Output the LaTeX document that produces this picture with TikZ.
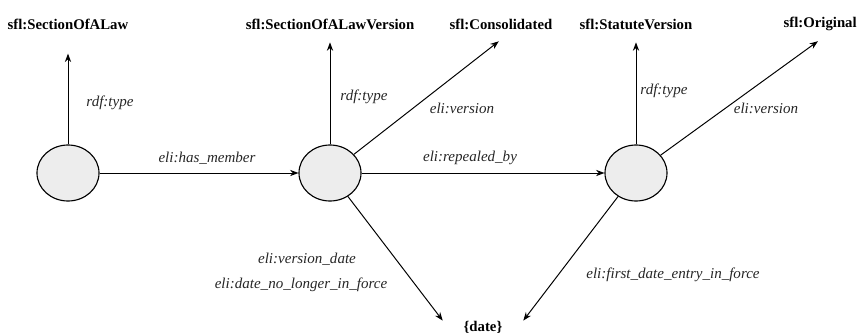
\documentclass[tikz,border=0pt]{standalone}
\usepackage{fontspec}
\setmainfont{Liberation Serif}
\usepackage{tikz}
\usetikzlibrary{shapes.geometric,arrows.meta}

\tikzset{
  res/.style={ellipse, draw, line width=0.8pt, fill=black!7, minimum width=1.55cm, minimum height=1.4cm},
  cls/.style={font=\fontsize{10.5}{12}\selectfont\bfseries, inner sep=0pt, minimum height=0.75cm, anchor=north},
  lbl/.style={font=\fontsize{10.7}{12}\selectfont\itshape, text=black!85},
  rel/.style={line width=0.7pt, -{Stealth[length=6pt,width=4.5pt]}}
}

\begin{document}
\begin{tikzpicture}[x=0.025cm, y=-0.025cm]
  \useasboundingbox (0,0) rectangle (857,335);

  % resources
  \node[res] (law) at (68,173) {};
  \node[res] (ver) at (330,173) {};
  \node[res] (stat) at (636,173) {};

  % classes
  \node[cls] (tlaw) at (68,9) {sfl:SectionOfALaw};
  \node[cls] (tver) at (330,9) {sfl:SectionOfALawVersion};
  \node[cls] (tcons) at (501,9) {sfl:Consolidated};
  \node[cls] (tstat) at (636,9) {sfl:StatuteVersion};
  \node[cls, anchor=north east] (torig) at (857,9) {sfl:Original};
  \node[font=\fontsize{10.5}{12}\selectfont\bfseries, inner sep=0pt, minimum width=2cm] (date) at (483,327) {\{date\}};

  % edges
  \draw[rel, shorten >=10pt] (law) -- (tlaw);
  \draw[rel, shorten >=2pt] (ver) -- (tver);
  \draw[rel, shorten >=2pt] (ver) -- (tcons.south);
  \draw[rel, shorten >=2pt] (stat) -- (tstat);
  \draw[rel, shorten >=2pt] (stat) -- (torig.south);
  \draw[rel] (law) -- (ver);
  \draw[rel] (ver) -- (stat);
  \draw[rel] (ver) -- (date.north west);
  \draw[rel] (stat) -- (date.north east);

  % labels
  \node[lbl] at (110,103) {rdf:type};
  \node[lbl] at (364,97) {rdf:type};
  \node[lbl] at (664,91) {rdf:type};
  \node[lbl] at (462,108) {eli:version};
  \node[lbl] at (766,108) {eli:version};
  \node[lbl] at (207,158) {eli:has\_member};
  \node[lbl] at (470,158) {eli:repealed\_by};
  \node[lbl] at (307,259) {eli:version\_date};
  \node[lbl] at (301,285) {eli:date\_no\_longer\_in\_force};
  \node[lbl] at (673,275) {eli:first\_date\_entry\_in\_force};
\end{tikzpicture}
\end{document}
